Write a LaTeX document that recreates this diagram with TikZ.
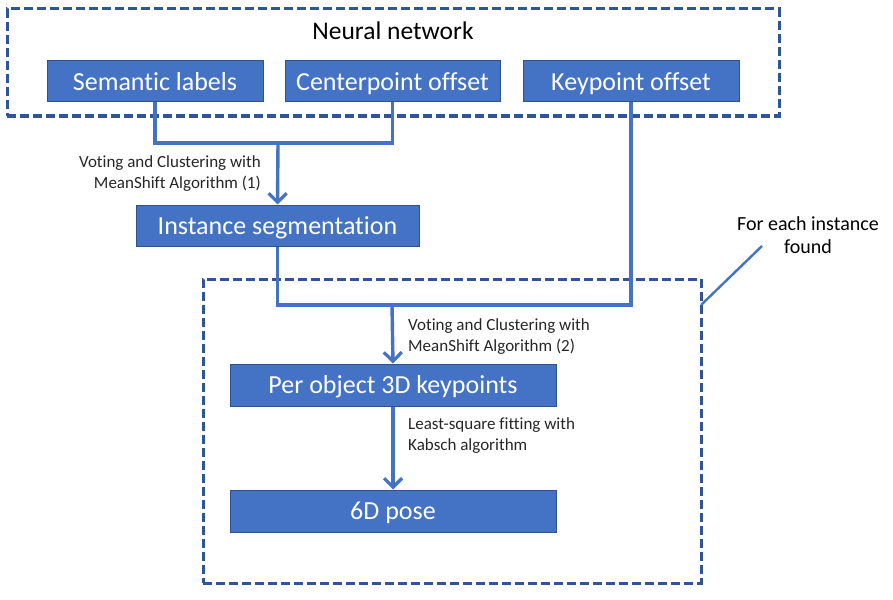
\documentclass[tikz,border=0pt]{standalone}
\usepackage{fontspec}
\setmainfont[Ligatures=NoCommon]{Carlito}
\usetikzlibrary{arrows.meta}
\definecolor{boxblue}{HTML}{4472C4}
\definecolor{boxedge}{HTML}{2F528F}
\definecolor{dashblue}{HTML}{2F5597}
\begin{document}
\begin{tikzpicture}[x=1pt,y=-1pt,
  bluebox/.style={draw=boxedge,line width=1pt,fill=boxblue,text=white,
    minimum height=41pt,inner sep=0pt,text height=17.5pt,text depth=0pt,
    font=\fontsize{26}{30}\selectfont},
  dbox/.style={draw=dashblue,line width=3pt,dash pattern=on 9pt off 4pt,inner sep=0pt},
  conn/.style={draw=boxblue,line width=3.4pt},
  arr/.style={conn,-{Straight Barb[length=9pt,width=18pt,line width=3.2pt]}},
  lbl/.style={font=\fontsize{17}{21}\selectfont,inner sep=0pt,text=black!85}
]
\useasboundingbox (0,0) rectangle (893,599);
% dashed frames
\node[dbox,minimum width=772pt,minimum height=107pt] (nn) at (393,62.5) {};
\node[dbox,minimum width=498pt,minimum height=304pt] (loop) at (452,431) {};
\node[font=\fontsize{25.5}{30}\selectfont,inner sep=0pt] (nntitle) at (393,31) {Neural network};
% boxes
\node[bluebox,minimum width=216pt] (sem) at (155,81.5) {Semantic labels};
\node[bluebox,minimum width=215pt] (cen) at (392.5,81.5) {Centerpoint offset};
\node[bluebox,minimum width=216pt] (key) at (631,81.5) {Keypoint offset};
\node[bluebox,minimum width=283pt] (inst) at (277.5,225.5) {Instance segmentation};
\node[bluebox,minimum width=326pt,minimum height=42pt] (obj) at (393,385) {Per object 3D keypoints};
\node[bluebox,minimum width=326pt,minimum height=42pt] (pose) at (393,511) {6D pose};
% junctions
\coordinate (m1) at (278,143);
\coordinate (m2) at (392,305);
% connectors
\draw[conn] (sem.south) |- (m1) -| (cen.south);
\draw[arr] (m1) -- (inst.north);
\draw[conn] (inst.south) |- (m2) -| (key.south);
\draw[arr] (m2) -- (obj.north);
\draw[arr] (obj.south) -- (pose.north);
% labels
\node[lbl,align=right,anchor=east] (l1) at (261,173.5) {Voting and Clustering with\\MeanShift Algorithm (1)};
\node[lbl,align=left,anchor=west] (l2) at (408,336.5) {Voting and Clustering with\\MeanShift Algorithm (2)};
\node[lbl,align=left,anchor=west] (l3) at (408,436) {Least-square fitting with\\Kabsch algorithm};
% callout
\node[font=\fontsize{20}{23}\selectfont,align=center,inner sep=0pt] (each) at (808,235.5) {For each instance\\found};
\coordinate (cs) at (762,246);
\coordinate (ce) at (701,305);
\draw[draw=boxblue,line width=2.4pt] (cs) -- (ce);
\end{tikzpicture}
\end{document}
